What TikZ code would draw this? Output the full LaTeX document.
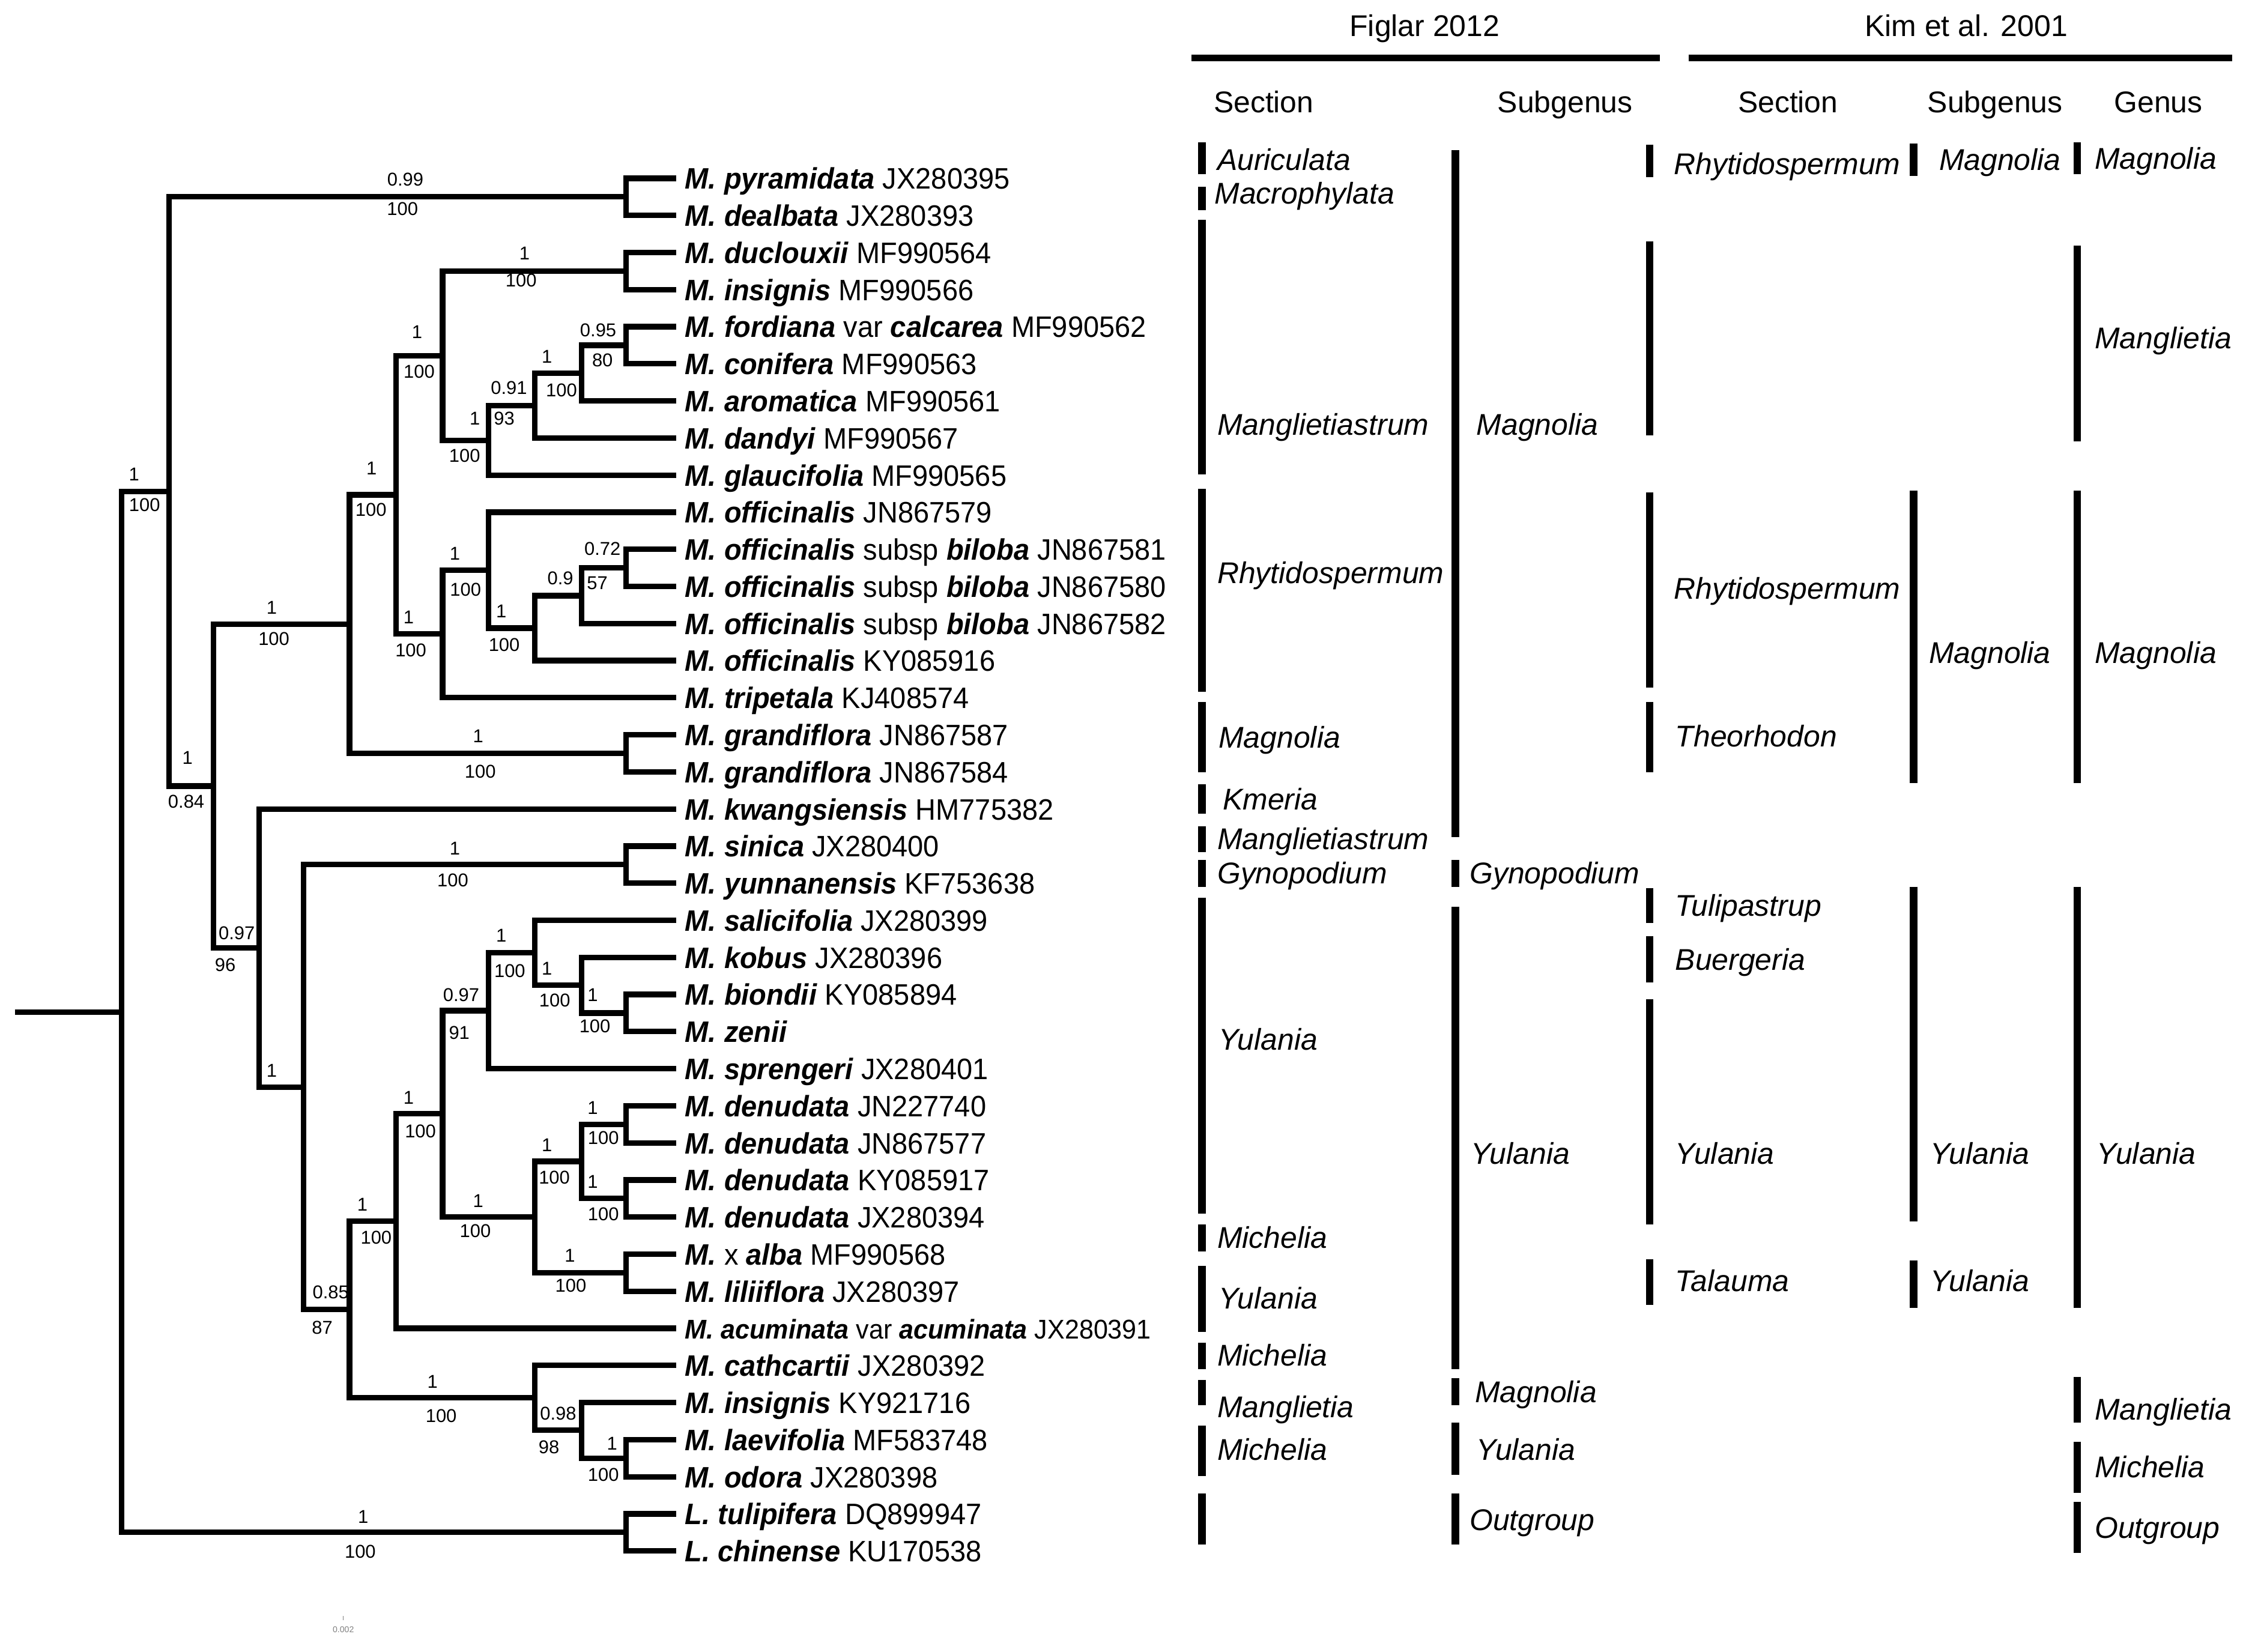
\documentclass[tikz,border=0pt]{standalone}
\usepackage{fontspec}
\usepackage{graphicx}
\setmainfont{Liberation Sans}
\newcommand\spn[1]{\textbf{\textit{#1}}}
\begin{document}
\begin{tikzpicture}[x={(0.023852cm,0)}, y={(0,-0.023852cm)},
 tree/.style={line width=2.6pt, line cap=butt},
 bar/.style={line width=3.6pt, line cap=butt},
 hline/.style={line width=3pt, line cap=butt},
 taxon/.style={anchor=base west, inner sep=0pt, font=\fontsize{14}{16}\selectfont},
 ann/.style={anchor=base west, inner sep=0pt, font=\fontsize{14.2}{16}\selectfont\itshape},
 head/.style={anchor=base, inner sep=0pt, font=\fontsize{14.2}{16}\selectfont},
 lab/.style={inner sep=0pt, font=\fontsize{8.8}{10}\selectfont}]
\useasboundingbox (0,0) rectangle (1568,1153);

% ---------- leaves ----------
\foreach \t [count=\i] in {
 {\spn{M. pyramidata} JX280395},
 {\spn{M. dealbata} JX280393},
 {\spn{M. duclouxii} MF990564},
 {\spn{M. insignis} MF990566},
 {\spn{M. fordiana} var \spn{calcarea} MF990562},
 {\spn{M. conifera} MF990563},
 {\spn{M. aromatica} MF990561},
 {\spn{M. dandyi} MF990567},
 {\spn{M. glaucifolia} MF990565},
 {\spn{M. officinalis} JN867579},
 {\spn{M. officinalis} subsp \spn{biloba} JN867581},
 {\spn{M. officinalis} subsp \spn{biloba} JN867580},
 {\spn{M. officinalis} subsp \spn{biloba} JN867582},
 {\spn{M. officinalis} KY085916},
 {\spn{M. tripetala} KJ408574},
 {\spn{M. grandiflora} JN867587},
 {\spn{M. grandiflora} JN867584},
 {\spn{M. kwangsiensis} HM775382},
 {\spn{M. sinica} JX280400},
 {\spn{M. yunnanensis} KF753638},
 {\spn{M. salicifolia} JX280399},
 {\spn{M. kobus} JX280396},
 {\spn{M. biondii} KY085894},
 {\spn{M. zenii}},
 {\spn{M. sprengeri} JX280401},
 {\spn{M. denudata} JN227740},
 {\spn{M. denudata} JN867577},
 {\spn{M. denudata} KY085917},
 {\spn{M. denudata} JX280394},
 {\spn{M.} x \spn{alba} MF990568},
 {\spn{M. liliiflora} JX280397},
 {\scalebox{0.917}{\spn{M. acuminata} var \spn{acuminata} JX280391}},
 {\spn{M. cathcartii} JX280392},
 {\spn{M. insignis} KY921716},
 {\spn{M. laevifolia} MF583748},
 {\spn{M. odora} JX280398},
 {\spn{L. tulipifera} DQ899947},
 {\spn{L. chinense} KU170538}} {
  \pgfmathsetmacro\yy{124.5+25.9*(\i-1)}
  \coordinate (t\i) at (472,\yy);
  \node[taxon] (n\i) at (478,\yy+7.5) {\scalebox{0.955}[1]{\t}};
}

% ---------- internal nodes ----------
\coordinate (stub) at (10.3,706.5);
\coordinate (root) at (85,706.5);
\coordinate (A)  at (118,343.1);
\coordinate (pd) at (437,137.45);
\coordinate (B)  at (149,548.8);
\coordinate (C)  at (244,435.7);
\coordinate (D)  at (276.5,345.45);
\coordinate (E)  at (309,248.3);
\coordinate (dc) at (437,189.25);
\coordinate (F)  at (341,307.4);
\coordinate (G)  at (373.5,283.15);
\coordinate (H)  at (406,260.5);
\coordinate (fc) at (437,241.05);
\coordinate (J)  at (309,442.6);
\coordinate (K)  at (341,398.1);
\coordinate (L)  at (373.5,438.55);
\coordinate (M)  at (406,415.9);
\coordinate (nb) at (437,396.45);
\coordinate (gr) at (437,525.95);
\coordinate (O)  at (181,661.85);
\coordinate (P)  at (212,758.9);
\coordinate (sy) at (437,603.65);
\coordinate (Q)  at (244,914.2);
\coordinate (R)  at (276.5,852.5);
\coordinate (S)  at (309,777.65);
\coordinate (T)  at (341,705.6);
\coordinate (U)  at (373.5,665.15);
\coordinate (V)  at (406,687.8);
\coordinate (bz) at (437,707.25);
\coordinate (X)  at (373.5,849.7);
\coordinate (Y)  at (406,810.85);
\coordinate (d1) at (437,784.95);
\coordinate (d2) at (437,836.75);
\coordinate (xl) at (437,888.55);
\coordinate (AA) at (373.5,975.95);
\coordinate (AB) at (406,998.6);
\coordinate (AC) at (437,1018.05);
\coordinate (Lc) at (437,1069.85);

\draw[tree] (stub) -- (root);
\foreach \a/\b in {root/A, root/Lc, A/pd, A/B, B/C, B/O, C/D, C/gr, D/E, D/J,
  E/dc, E/F, F/G, F/t9, G/H, G/t8, H/fc, H/t7, J/K, J/t15, K/t10, K/L,
  L/M, L/t14, M/nb, M/t13, O/t18, O/P, P/sy, P/Q, Q/R, Q/AA, R/S, R/t32,
  S/T, S/X, T/U, T/t25, U/t21, U/V, V/t22, V/bz, X/Y, X/xl, Y/d1, Y/d2,
  AA/t33, AA/AB, AB/t34, AB/AC,
  pd/t1, pd/t2, dc/t3, dc/t4, fc/t5, fc/t6, nb/t11, nb/t12, gr/t16, gr/t17,
  sy/t19, sy/t20, bz/t23, bz/t24, d1/t26, d1/t27, d2/t28, d2/t29,
  xl/t30, xl/t31, AC/t35, AC/t36, Lc/t37, Lc/t38}
  \draw[tree] (\a) |- (\b);

% ---------- support values ----------
\foreach \x/\y/\t [count=\k] in {
 283/125.3/0.99, 281/145.7/100,
 366.2/177/1, 363.8/195.8/100,
 291.2/231.6/1, 292.6/259.5/100,
 259.4/326.8/1, 259/355.8/100,
 331.5/292/1, 324.4/318.3/100,
 355.3/270.9/0.91, 352/292/93,
 381.8/249/1, 392/272.5/100,
 417.6/230.5/0.95, 420.6/251.6/80,
 189.7/424.4/1, 191.2/446.1/100,
 285.3/431/1, 286.8/453.8/100,
 317.6/386.4/1, 325/411.7/100,
 350/426.6/1, 352/450.2/100,
 391.2/403.7/0.9, 417/407.3/57,
 420.6/383.2/0.72,
 93.6/331/1, 100.9/352.7/100,
 333.8/514.1/1, 335.3/538.7/100,
 130.9/529/1, 130/559.8/0.84,
 165.3/651.3/0.97, 157.3/673.7/96,
 189.7/747.5/1,
 317.6/592.4/1, 316.1/614.5/100,
 230.9/902.3/0.85, 225/926.8/87,
 253/840.9/1, 262.6/864.1/100,
 285.3/766.4/1, 293.5/789.7/100,
 322/694.6/0.97, 320.6/721.1/91,
 350/653.2/1, 355.9/677.8/100,
 381.8/676.1/1, 387.3/698.2/100,
 413.8/694.6/1, 415.3/716.3/100,
 333.8/838.6/1, 331.8/859.6/100,
 381.8/799.3/1, 387/822.2/100,
 413.8/773.3/1, 421.2/794.5/100,
 413.8/825.1/1, 421.2/847.7/100,
 397.9/876.6/1, 398.5/897.7/100,
 302/964.7/1, 308/988.6/100,
 389.7/987/0.98, 383.2/1010.2/98,
 427.3/1007.9/1, 421.2/1029.5/100,
 253.5/1059/1, 251.5/1083.4/100}
  \node[lab] (s\k) at (\x,\y) {\t};

% ---------- scale bar ----------
\draw[gray, line width=0.3pt] (239.7,1128.3) -- (239.7,1131.3);
\node[inner sep=0pt, text=gray, font=\fontsize{4}{5}\selectfont] (scalelab) at (239.7,1137.5) {0.002};

% ---------- headers ----------
\node[head] (h1) at (994.6,25.5) {Figlar 2012};
\node[head] (h2) at (1372.7,25.5) {Kim et al. 2001};
\draw[hline] (831.9,40.4) -- (1158.8,40.4);
\draw[hline] (1178.9,40.4) -- (1558.4,40.4);
\node[head] (h3) at (882.2,78.6) {Section};
\node[head] (h4) at (1092.7,78.6) {Subgenus};
\node[head] (h5) at (1248.2,78.6) {Section};
\node[head] (h6) at (1392.8,78.6) {Subgenus};
\node[head] (h7) at (1506.8,78.6) {Genus};

% ---------- classification bars ----------
\foreach \x/\a/\b in {
 839/99.2/121.6, 839/130.3/146.7, 839/153.5/331.3, 839/341.4/482.8,
 839/490.3/539, 839/547.5/568, 839/576.8/594.8, 839/600.4/619.1,
 839/626.6/847.4, 839/854.9/873.6, 839/883.7/929.8, 839/937.3/956,
 839/963.5/981.1, 839/995.3/1030.5, 839/1042.8/1078.4,
 1016/104.8/584.3, 1016/600.4/619.1, 1016/633/956, 1016/962.3/981,
 1016/993.4/1029.7, 1016/1042.8/1078.4,
 1151.6/101/123.5, 1151.6/168.4/303.9, 1151.6/343.6/479.9, 1151.6/490.3/539,
 1151.6/619.9/644.2, 1151.6/653.5/686.1, 1151.6/697.7/854.9, 1151.6/879.2/911.1,
 1335.8/100.3/122.8, 1335.8/342.5/546.5, 1335.8/619.1/852.7, 1335.8/880/913,
 1450.2/99.2/121.6, 1450.2/171.4/308, 1450.2/342.5/546.5, 1450.2/619.1/913,
 1450.2/961.2/993.4, 1450.2/1006.5/1042.1, 1450.2/1048.4/1084}
  \draw[bar] (\x,\a) -- (\x,\b);

\foreach \x/\y/\t [count=\k] in {
 849.6/111.5/Auriculata, 847.7/134.7/Macrophylata, 849.6/296.4/Manglietiastrum,
 849.6/399.7/Rhytidospermum, 850.5/514.7/Magnolia, 853.4/557.7/Kmeria,
 849.6/585.4/Manglietiastrum, 849.6/609.4/Gynopodium, 850.5/725.4/Yulania,
 849.6/863.9/Michelia, 850.5/906.2/Yulania, 849.6/946.2/Michelia,
 849.6/982.2/Manglietia, 849.6/1012.1/Michelia,
 1030.5/296.4/Magnolia, 1025.7/609.4/Gynopodium, 1026.6/805.1/Yulania,
 1029.5/971.7/Magnolia, 1030.5/1012.1/Yulania, 1025.7/1060.8/Outgroup,
 1168.3/114.2/Rhytidospermum, 1168.3/410.6/Rhytidospermum, 1169.3/513.9/Theorhodon,
 1169.3/632.2/Tulipastrup, 1169.3/669.6/Buergeria, 1169.3/805.1/Yulania,
 1169.3/894.2/Talauma,
 1353.5/111.5/Magnolia, 1346.4/455.5/Magnolia, 1347.3/805.1/Yulania,
 1347.3/894.2/Yulania,
 1462.2/110.4/Magnolia, 1462.2/235.8/Manglietia, 1462.2/455.5/Magnolia,
 1463.6/805.1/Yulania, 1462.2/983.7/Manglietia, 1462.2/1024.1/Michelia,
 1462.2/1066.4/Outgroup}
  \node[ann] (a\k) at (\x,\y+7.5) {\t};
\end{tikzpicture}
\end{document}
